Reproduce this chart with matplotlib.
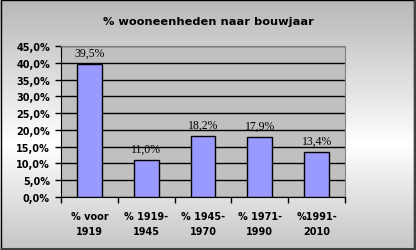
import numpy as np
import matplotlib
matplotlib.use("Agg")
import matplotlib.pyplot as plt
from matplotlib.ticker import FuncFormatter, FixedLocator

categories = ["% voor\n1919", "% 1919-\n1945", "% 1945-\n1970", "% 1971-\n1990", "%1991-\n2010"]
values = [39.5, 11.0, 18.2, 17.9, 13.4]
title = "% wooneenheden naar bouwjaar"

W, H = 416, 251
fig = plt.figure(figsize=(W / 100, H / 100), dpi=100)

# vertical gradient background: gray top -> white middle -> gray bottom
bg = fig.add_axes([0, 0, 1, 1], zorder=-10)
rows = np.arange(H)
mid = 145
g = np.where(rows < mid,
             0.72 + 0.28 * (rows / mid),
             1.0 - 0.23 * ((rows - mid) / (H - mid)))
img = np.repeat(g[:, None], W, axis=1)
img = np.dstack([img, img, img])
bg.imshow(img, extent=[0, W, 0, H], aspect="auto", origin="upper")
bg.set_xlim(0, W); bg.set_ylim(0, H)
bg.axis("off")
# border with shadow on right/bottom
bg.plot([0.5, 0.5, W - 2, W - 2, 0.5], [0.5 + 1, H - 0.5, H - 0.5, 1.5, 1.5], color="black", lw=1.0)
bg.plot([W - 1.0, W - 1.0], [0, H - 2], color="#404040", lw=1.5)
bg.plot([2, W], [0.6, 0.6], color="#404040", lw=1.5)

ax = fig.add_axes([61 / W, 1 - 198 / H, (345 - 61) / W, (198 - 47) / H])
ax.set_facecolor("#C0C0C0")
x = np.arange(len(categories))
ax.bar(x, values, width=0.44, color="#9999FF", edgecolor="black", linewidth=1.0, zorder=3)
for xi, v in zip(x, values):
    ax.text(xi, v + 1.6, f"{v:.1f}%".replace(".", ","), ha="center", va="bottom",
            fontsize=8.5, family="Liberation Serif", color="black", zorder=4)

ax.set_xlim(-0.5, len(categories) - 0.5)
ax.set_ylim(0, 45)
ax.yaxis.set_major_locator(FixedLocator(np.arange(0, 46, 5)))
ax.yaxis.set_major_formatter(FuncFormatter(lambda v, p: f"{v:.1f}%".replace(".", ",")))
ax.grid(axis="y", color="black", linewidth=1.0, zorder=1)
ax.set_axisbelow(True)
ax.set_xticks(x)
ax.set_xticklabels(categories, fontsize=7, fontweight="bold", linespacing=1.6)
ax.xaxis.set_minor_locator(FixedLocator(np.arange(-0.5, len(categories), 1)))
ax.tick_params(axis="x", which="major", length=0, pad=10)
ax.tick_params(axis="x", which="minor", length=4, width=1, direction="out")
ax.tick_params(axis="y", length=4, width=1, direction="out", labelsize=7, pad=4)
for lab in ax.get_yticklabels():
    lab.set_fontweight("bold")
for s in ["top", "right"]:
    ax.spines[s].set_color("#808080")
for s in ["left", "bottom"]:
    ax.spines[s].set_color("black")

fig.text(208 / W, 1 - 22 / H, title, ha="center", va="center", fontsize=8.2, fontweight="bold")

fig.savefig("out.png", dpi=100)
